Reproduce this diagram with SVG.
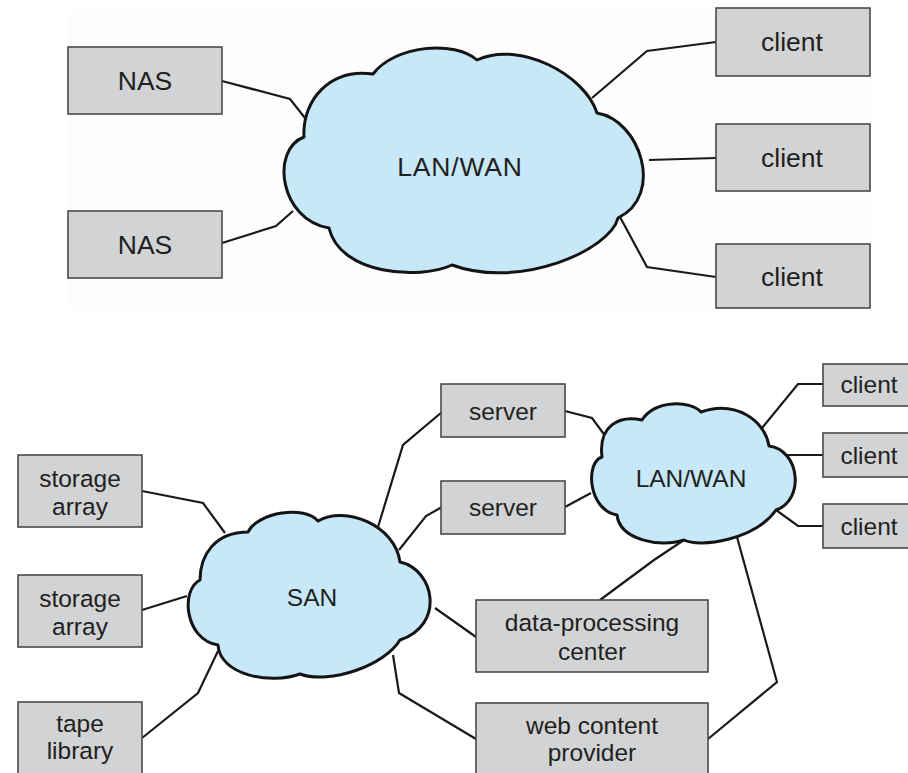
<svg xmlns="http://www.w3.org/2000/svg" width="908" height="773" viewBox="0 0 908 773">
<style>
.box{fill:#d1d3d4;stroke:#4a4a4a;stroke-width:1.6}
.cloud{fill:#c6e8f8;stroke:#141414;stroke-width:3;stroke-linejoin:round}
.ln{fill:none;stroke:#1a1a1a;stroke-width:2.2;stroke-linejoin:miter}
text{font-family:"Liberation Sans",Arial,sans-serif;fill:#231f20;text-anchor:middle}
.t1{font-size:26.5px}
.t2{font-size:24.5px}
</style>
<rect x="0" y="0" width="908" height="773" fill="#ffffff"/>
<rect x="68" y="10" width="802" height="298" fill="#fdfdfd"/>
<g id="connectors">
<polyline class="ln" points="222,81 290,99 305,118"/>
<polyline class="ln" points="222,243 276,226 293,211"/>
<polyline class="ln" points="716,42 647,51 592,98"/>
<polyline class="ln" points="716,158 649,160"/>
<polyline class="ln" points="716,277 647,267 620,217"/>
<polyline class="ln" points="142,491 203,503 225,533"/>
<polyline class="ln" points="142,610 187,596"/>
<polyline class="ln" points="142,738 198,693 218,651"/>
<polyline class="ln" points="442,412 403,445 378,527"/>
<polyline class="ln" points="442,507 426,516 399,550"/>
<polyline class="ln" points="476,637 435,608"/>
<polyline class="ln" points="476,739 399,693 393,655"/>
<polyline class="ln" points="565,411 592,418 606,437"/>
<polyline class="ln" points="565,507 591,493"/>
<polyline class="ln" points="823,384 798,384 762,428"/>
<polyline class="ln" points="823,455 787,455"/>
<polyline class="ln" points="823,526 798,526 776,510"/>
<polyline class="ln" points="600,600 654,560 684,540"/>
<polyline class="ln" points="708,739 777,682 737,537"/>
</g>
<g id="lanwan-top">
<path class="cloud" d="M304,137 C302,100 330,68 373,74 C395,45 455,40 477,60 C520,40 585,75 597,113 C640,120 665,195 618,218 C610,250 520,290 452,265 C420,280 340,275 329,228 C280,220 270,150 304,137 Z"/>
<text class="t1" x="460" y="176" letter-spacing="0.8">LAN/WAN</text>
</g>
<g id="nas1"><rect class="box" x="68" y="47" width="154" height="67"/><text class="t1" x="145" y="90">NAS</text></g>
<g id="nas2"><rect class="box" x="68" y="211" width="154" height="67"/><text class="t1" x="145" y="254">NAS</text></g>
<g id="client-t1"><rect class="box" x="716" y="8" width="154" height="68"/><text class="t1" x="792" y="51">client</text></g>
<g id="client-t2"><rect class="box" x="716" y="124" width="154" height="67"/><text class="t1" x="792" y="167">client</text></g>
<g id="client-t3"><rect class="box" x="716" y="244" width="154" height="64"/><text class="t1" x="792" y="286">client</text></g>
<g id="san">
<path class="cloud" d="M200,580 C200,555 215,532 248,532 C258,512 305,505 318,521 C345,505 395,525 400,562 C435,570 445,625 400,640 C385,665 330,685 300,674 C270,685 220,675 218,645 C185,640 180,590 200,580 Z"/>
<text class="t2" x="312" y="606">SAN</text>
</g>
<g id="lanwan-bottom">
<path class="cloud" d="M602,457 C598,425 620,415 642,420 C655,400 690,400 701,412 C735,400 765,420 769,446 C800,450 805,500 776,510 C755,540 700,548 684,540 C660,548 620,540 617,515 C588,510 585,462 602,457 Z"/>
<text class="t2" x="691" y="487">LAN/WAN</text>
</g>
<g id="storage1"><rect class="box" x="18" y="455" width="124" height="72"/><text class="t2" x="80" y="487">storage</text><text class="t2" x="80" y="515">array</text></g>
<g id="storage2"><rect class="box" x="18" y="575" width="124" height="72"/><text class="t2" x="80" y="607">storage</text><text class="t2" x="80" y="635">array</text></g>
<g id="tape"><rect class="box" x="18" y="702" width="124" height="80"/><text class="t2" x="80" y="732">tape</text><text class="t2" x="80" y="759">library</text></g>
<g id="server1"><rect class="box" x="441" y="384" width="124" height="53"/><text class="t2" x="503" y="420">server</text></g>
<g id="server2"><rect class="box" x="441" y="481" width="124" height="53"/><text class="t2" x="503" y="516">server</text></g>
<g id="dpc"><rect class="box" x="476" y="600" width="232" height="72"/><text class="t2" x="592" y="631">data-processing</text><text class="t2" x="592" y="660">center</text></g>
<g id="web"><rect class="box" x="476" y="703" width="232" height="80"/><text class="t2" x="592" y="734">web content</text><text class="t2" x="592" y="761">provider</text></g>
<g id="client-b1"><rect class="box" x="823" y="364" width="95" height="42"/><text class="t2" x="869" y="393">client</text></g>
<g id="client-b2"><rect class="box" x="823" y="433" width="95" height="44"/><text class="t2" x="869" y="464">client</text></g>
<g id="client-b3"><rect class="box" x="823" y="504" width="95" height="44"/><text class="t2" x="869" y="535">client</text></g>
</svg>
